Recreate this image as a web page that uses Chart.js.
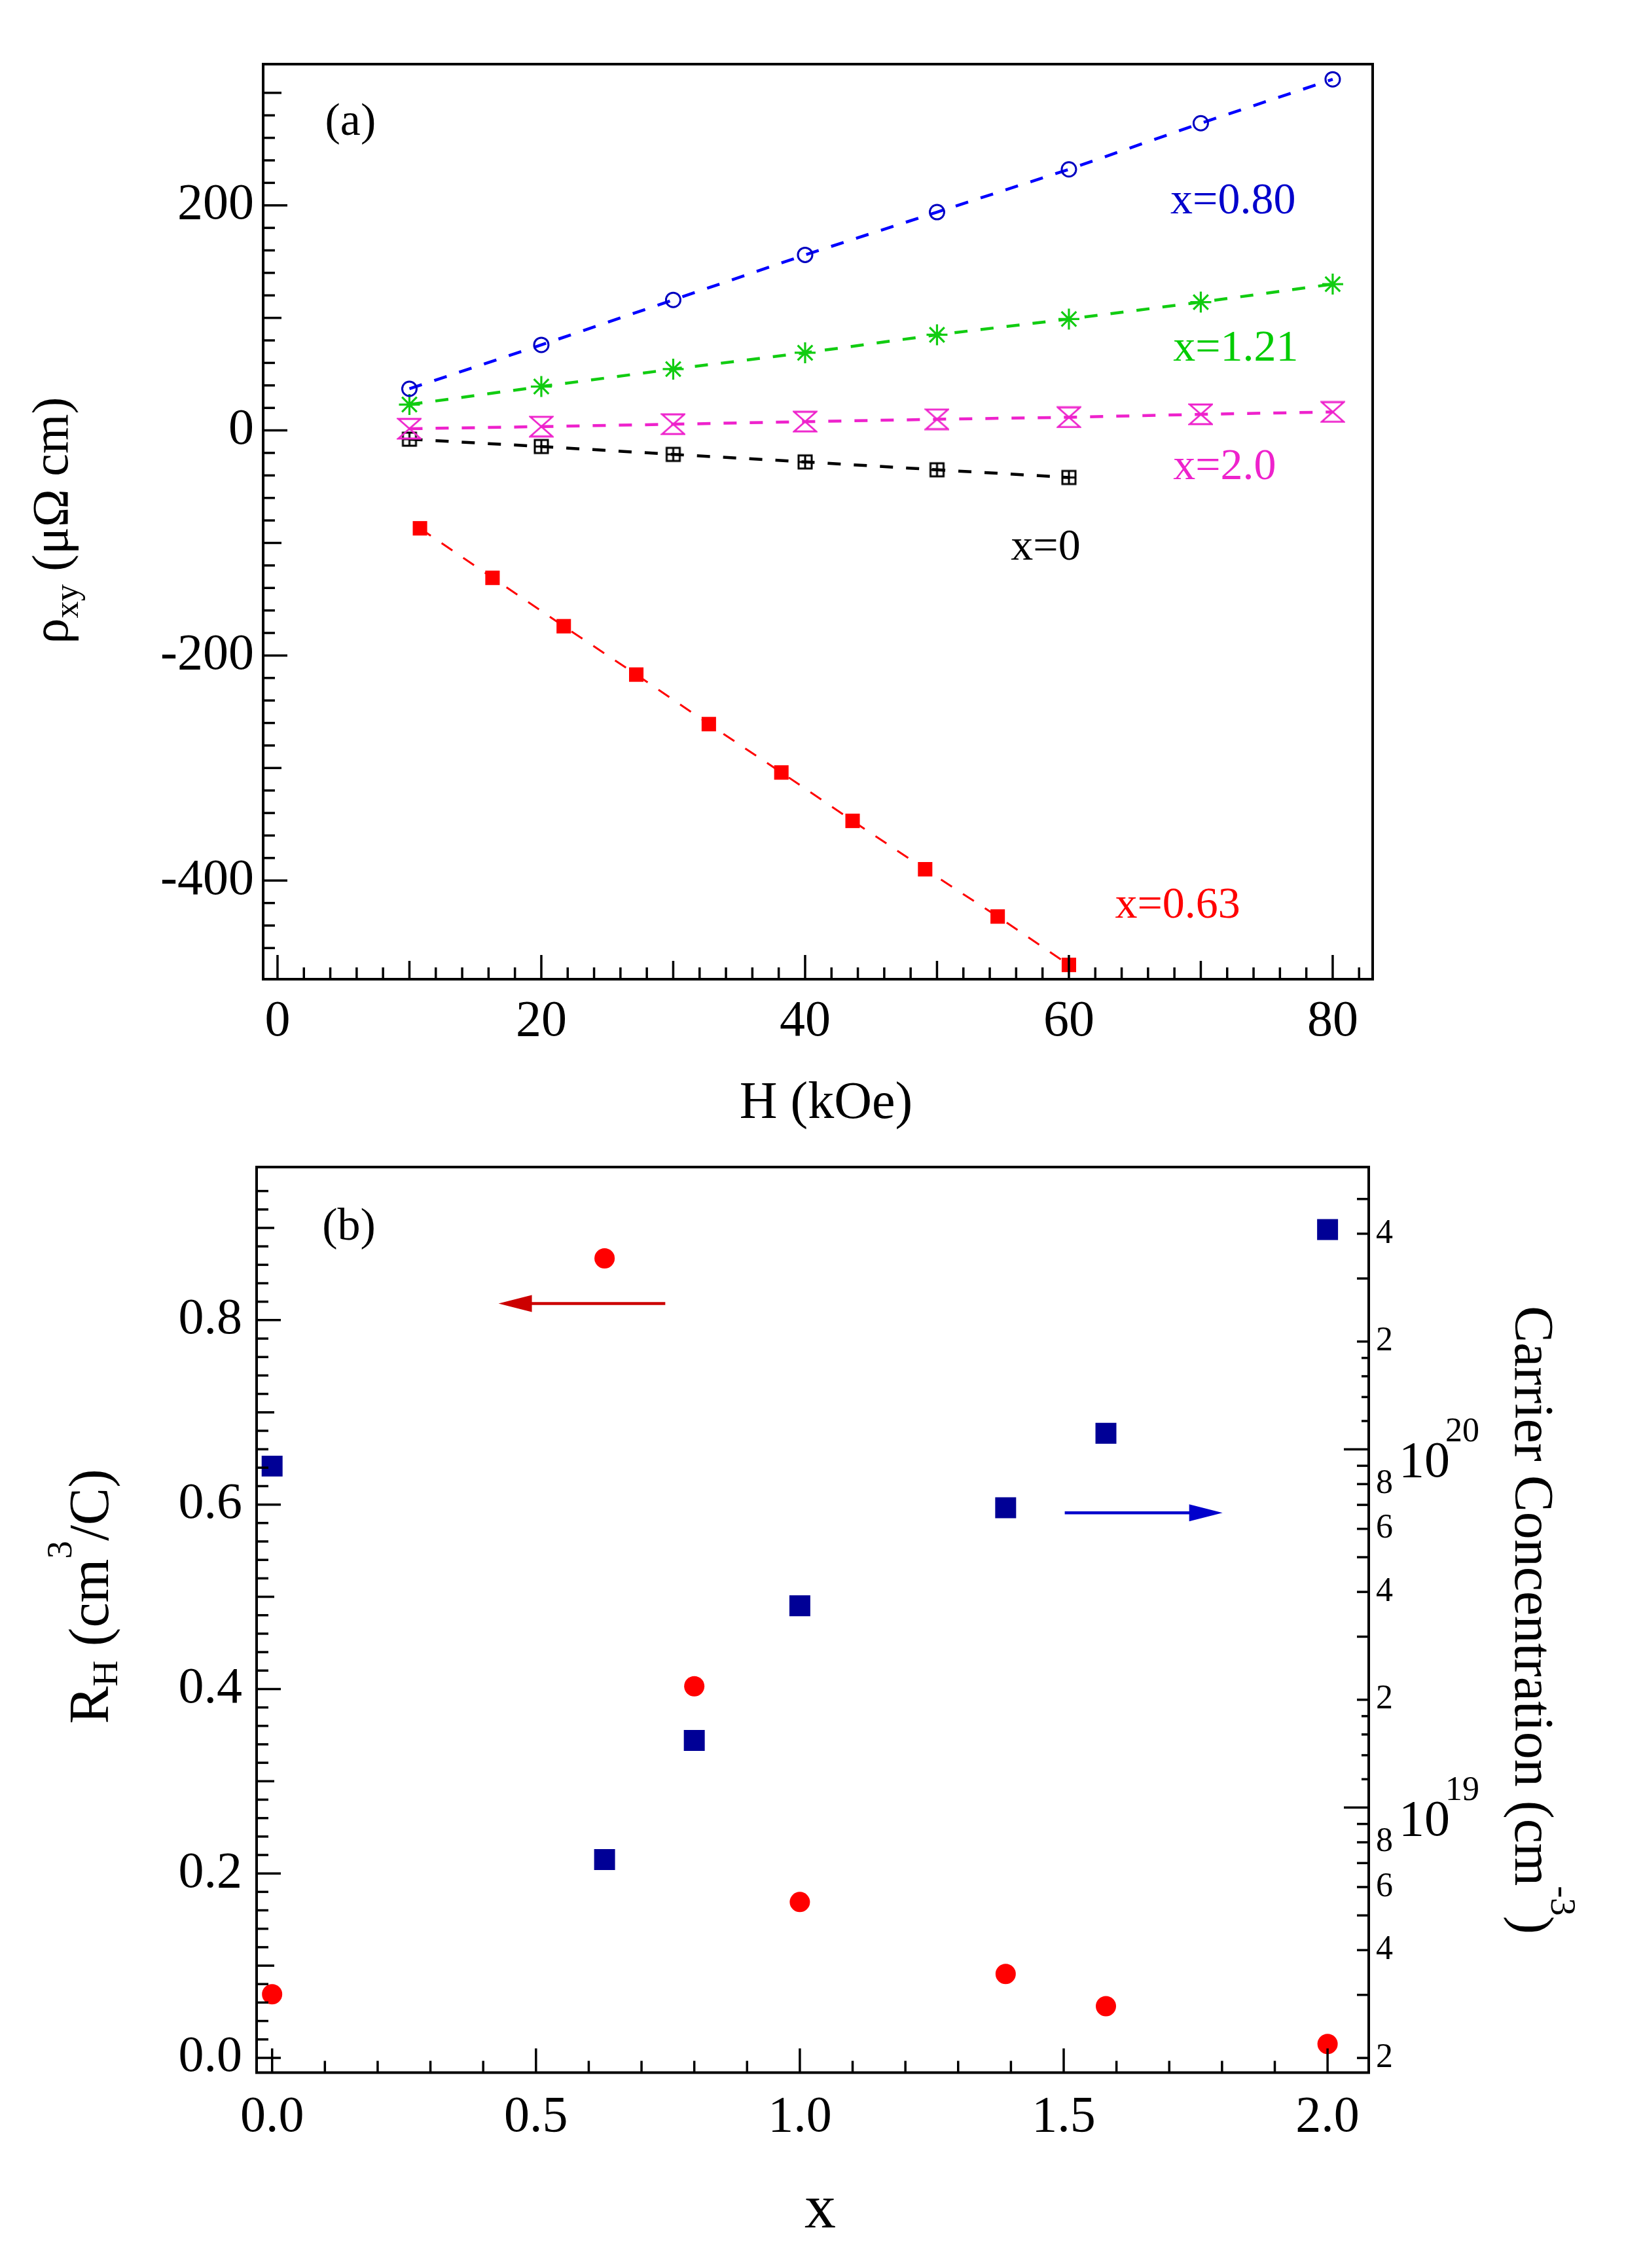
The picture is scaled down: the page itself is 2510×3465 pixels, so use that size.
<!DOCTYPE html>
<html>
<head>
<meta charset="utf-8">
<script src="https://cdn.jsdelivr.net/npm/chart.js@4.4.0/dist/chart.umd.min.js"></script>
<style>
  html, body { margin: 0; padding: 0; background: #fff; }
  body { width: 2510px; height: 3465px; position: relative; overflow: hidden; }
  canvas { position: absolute; left: 0; }
  #chartA { top: 0; }
  #chartB { top: 1660px; }
</style>
</head>
<body>
<canvas id="chartA" width="2510" height="1760"></canvas>
<canvas id="chartB" width="2510" height="1805"></canvas>
<script>
// panel (a): rho_xy vs H
const H_full = [10, 20, 30, 40, 50, 60, 70, 80];
const rho_x080 = [37, 76, 116, 156, 194, 232, 273, 312];
const rho_x121 = [23, 39, 54.5, 69, 85, 99, 114, 130];
const rho_x20 = [1.5, 3.4, 5.5, 7.8, 9.9, 11.7, 14.3, 16.4];
const H_x0 = [10, 20, 30, 40, 50, 60];
const rho_x0 = [-7.8, -14.3, -21.3, -28, -35, -41.8];
const H_x063 = [10.8, 16.3, 21.7, 27.2, 32.7, 38.2, 43.6, 49.1, 54.6, 60.0];
const rho_x063 = [-87, -131, -174, -217, -261, -304, -347, -390, -432, -475];

// panel (b): Hall coefficient and carrier concentration vs x
const xComp = [0, 0.63, 0.80, 1.0, 1.39, 1.58, 2.0];
const hallCoef = [0.069, 0.867, 0.403, 0.169, 0.091, 0.056, 0.015];
const carrierN = [8.98e19, 7.16e18, 1.54e19, 3.66e19, 6.87e19, 1.109e20, 4.11e20];

// tick labels
const hLabels = [0, 20, 40, 60, 80];
const rhoLabels = [-400, -200, 0, 200];
const xLabels = [0, 0.5, 1, 1.5, 2];
const rhLabels = [0, 0.2, 0.4, 0.6, 0.8];
const nLabelMantissas = [2, 4, 6, 8];
const nDecades = [19, 20];

const SERIF = '"Liberation Serif", "Times New Roman", serif';
const tickFont = { family: SERIF, size: 78 };

function pts(xs, ys) {
  return xs.map((x, i) => ({ x: x, y: ys[i] }));
}

function linTicks(from, to, step) {
  const out = [];
  const n = Math.round((to - from) / step);
  for (let i = 0; i <= n; i++) out.push({ value: +(from + i * step).toFixed(6) });
  return out;
}

function logTicks(lo, hi, vmin, vmax) {
  const mant = [1, 1.2, 1.4, 1.6, 1.8, 2, 3, 4, 5, 6, 7, 8, 9];
  const out = [];
  for (let d = lo; d <= hi; d++) {
    mant.forEach(m => {
      const v = m * Math.pow(10, d);
      if (v >= vmin && v <= vmax) out.push({ value: v });
    });
  }
  return out;
}

function isMult(v, s) {
  return Math.abs(v / s - Math.round(v / s)) < 1e-6;
}

function mantissa(v) {
  const e = Math.floor(Math.log10(v) + 1e-9);
  return v / Math.pow(10, e);
}

function drawRich(ctx, parts, x, y, angle, align) {
  ctx.save();
  ctx.translate(x, y);
  ctx.rotate(angle);
  ctx.textBaseline = 'alphabetic';
  ctx.textAlign = 'left';
  let total = 0;
  const widths = parts.map(p => {
    ctx.font = p.size + 'px ' + SERIF;
    const w = ctx.measureText(p.t).width;
    total += w;
    return w;
  });
  let cx = align === 'center' ? -total / 2 : 0;
  parts.forEach((p, i) => {
    ctx.font = p.size + 'px ' + SERIF;
    ctx.fillStyle = p.color || '#000';
    ctx.fillText(p.t, cx, -(p.rise || 0));
    cx += widths[i];
  });
  ctx.restore();
}

function arrow(ctx, x0, y0, x1, color) {
  const dir = Math.sign(x1 - x0);
  ctx.save();
  ctx.strokeStyle = color;
  ctx.fillStyle = color;
  ctx.lineWidth = 4.5;
  ctx.beginPath();
  ctx.moveTo(x0, y0);
  ctx.lineTo(x1 - dir * 40, y0);
  ctx.stroke();
  ctx.beginPath();
  ctx.moveTo(x1, y0);
  ctx.lineTo(x1 - dir * 51, y0 - 13);
  ctx.lineTo(x1 - dir * 51, y0 + 13);
  ctx.closePath();
  ctx.fill();
  ctx.restore();
}

// custom markers
function hourglass(color) {
  const c = document.createElement('canvas');
  c.width = 38; c.height = 34;
  const g = c.getContext('2d');
  g.strokeStyle = color;
  g.lineWidth = 2.8;
  g.beginPath();
  g.moveTo(2, 2); g.lineTo(36, 2); g.lineTo(19, 17); g.closePath();
  g.moveTo(19, 17); g.lineTo(36, 32); g.lineTo(2, 32); g.closePath();
  g.stroke();
  return c;
}

function boxPlus() {
  const c = document.createElement('canvas');
  c.width = 26; c.height = 26;
  const g = c.getContext('2d');
  g.strokeStyle = '#000';
  g.lineWidth = 3;
  g.strokeRect(3, 3, 20, 20);
  g.beginPath();
  g.moveTo(13, 3); g.lineTo(13, 23);
  g.moveTo(3, 13); g.lineTo(23, 13);
  g.stroke();
  return c;
}

// frame + inward ticks
function framePlugin(spec) {
  return {
    id: 'frameTicks',
    afterDatasetsDraw(chart) {
      const ctx = chart.ctx, a = chart.chartArea;
      ctx.save();
      ctx.strokeStyle = '#000';
      ctx.lineWidth = 3.5;
      spec.forEach(s => {
        const sc = chart.scales[s.id];
        sc.ticks.forEach(t => {
          const len = s.len(t.value);
          if (!len) return;
          const p = sc.getPixelForValue(t.value);
          ctx.beginPath();
          if (s.side === 'bottom') { ctx.moveTo(p, a.bottom); ctx.lineTo(p, a.bottom - len); }
          if (s.side === 'left') { ctx.moveTo(a.left, p); ctx.lineTo(a.left + len, p); }
          if (s.side === 'right') { ctx.moveTo(a.right, p); ctx.lineTo(a.right - len, p); }
          ctx.stroke();
        });
      });
      ctx.lineWidth = 4;
      ctx.strokeRect(a.left, a.top, a.right - a.left, a.bottom - a.top);
      ctx.restore();
    }
  };
}

// ---------- panel (a)
const notesA = [
  { t: 'x=0.80', h: 67.7, v: 193, color: '#0000cc' },
  { t: 'x=1.21', h: 67.9, v: 61.8, color: '#00cc00' },
  { t: 'x=2.0', h: 67.9, v: -43.5, color: '#ee22cc' },
  { t: 'x=0', h: 55.6, v: -115, color: '#000' },
  { t: 'x=0.63', h: 63.5, v: -433, color: '#ff0000' }
];

const textA = {
  id: 'textA',
  afterDraw(chart) {
    const ctx = chart.ctx, sx = chart.scales.x, sy = chart.scales.y;
    notesA.forEach(n => {
      drawRich(ctx, [{ t: n.t, size: 68, color: n.color }], sx.getPixelForValue(n.h), sy.getPixelForValue(n.v), 0, 'left');
    });
    drawRich(ctx, [{ t: '(a)', size: 70 }], sx.getPixelForValue(3.6), sy.getPixelForValue(262.5), 0, 'left');
    drawRich(ctx, [{ t: 'H (kOe)', size: 80 }], 1262, 1708, 0, 'center');
    drawRich(ctx, [
      { t: 'ρ', size: 78 },
      { t: 'xy', size: 52, rise: -16 },
      { t: ' (μΩ cm)', size: 78 }
    ], 103, 795, -Math.PI / 2, 'center');
  }
};

new Chart(document.getElementById('chartA'), {
  type: 'scatter',
  data: {
    datasets: [
      { data: pts(H_full, rho_x080), showLine: true, borderColor: '#0000ff', borderWidth: 4.5, borderDash: [20, 20],
        pointStyle: 'circle', pointRadius: 11, pointBorderColor: '#0000c0', pointBorderWidth: 3,
        pointBackgroundColor: 'rgba(0,0,0,0)', clip: false },
      { data: pts(H_full, rho_x121), showLine: true, borderColor: '#11cc11', borderWidth: 4.5, borderDash: [20, 20],
        pointStyle: 'star', pointRadius: 16, pointBorderColor: '#11cc11', pointBorderWidth: 3.2, clip: false },
      { data: pts(H_full, rho_x20), showLine: true, borderColor: '#ee22cc', borderWidth: 4.5, borderDash: [20, 20],
        pointStyle: hourglass('#ee22cc'), clip: false },
      { data: pts(H_x0, rho_x0), showLine: true, borderColor: '#000', borderWidth: 4.5, borderDash: [20, 20],
        pointStyle: boxPlus(), clip: false },
      { data: pts(H_x063, rho_x063), showLine: true, borderColor: '#ff0000', borderWidth: 3, borderDash: [20, 20],
        pointStyle: 'rect', pointRadius: 15.6, pointBorderWidth: 0, pointBackgroundColor: '#ff0000', clip: false }
    ]
  },
  options: {
    responsive: false,
    animation: false,
    devicePixelRatio: 1,
    layout: { padding: { top: 98, right: 413, left: 0, bottom: 0 } },
    plugins: { legend: { display: false }, tooltip: { enabled: false } },
    scales: {
      x: {
        type: 'linear', min: -1.09, max: 83.03,
        grid: { display: false, drawTicks: false, tickLength: 0 },
        border: { display: false },
        afterBuildTicks: s => { s.ticks = linTicks(0, 82, 2); },
        afterFit: s => { s.height = 264; },
        ticks: { autoSkip: false, maxRotation: 0, padding: 19, font: tickFont, color: '#000',
                 callback: v => hLabels.includes(v) ? String(v) : '' }
      },
      y: {
        type: 'linear', min: -487.7, max: 325.5,
        grid: { display: false, drawTicks: false, tickLength: 0 },
        border: { display: false },
        afterBuildTicks: s => { s.ticks = linTicks(-460, 300, 20); },
        afterFit: s => { s.width = 402; },
        ticks: { autoSkip: false, padding: 14, font: tickFont, color: '#000',
                 callback: v => rhoLabels.includes(v) ? String(v) : '' }
      }
    }
  },
  plugins: [
    framePlugin([
      { id: 'x', side: 'bottom', len: v => isMult(v, 20) ? 37 : (isMult(v, 10) ? 28 : 18) },
      { id: 'y', side: 'left', len: v => isMult(v, 200) ? 37 : (isMult(v, 100) ? 28 : 18) }
    ]),
    textA
  ]
});

// ---------- panel (b)
const N_MIN = 1.82e18, N_MAX = 6.14e20;

const textB = {
  id: 'textB',
  afterDraw(chart) {
    const ctx = chart.ctx, sx = chart.scales.x, sy = chart.scales.y, sn = chart.scales.y2;
    const a = chart.chartArea;
    drawRich(ctx, [{ t: '(b)', size: 70 }], sx.getPixelForValue(0.095), sy.getPixelForValue(0.887), 0, 'left');
    arrow(ctx, sx.getPixelForValue(0.745), sy.getPixelForValue(0.818), sx.getPixelForValue(0.429), '#cc0000');
    arrow(ctx, sx.getPixelForValue(1.502), sy.getPixelForValue(0.591), sx.getPixelForValue(1.801), '#0000cc');
    nDecades.forEach(d => {
      const p = sn.getPixelForValue(Math.pow(10, d));
      drawRich(ctx, [{ t: '10', size: 78 }], a.right + 46, p + 42, 0, 'left');
      drawRich(ctx, [{ t: String(d), size: 52 }], a.right + 117, p - 12, 0, 'left');
    });
    drawRich(ctx, [{ t: 'x', size: 96 }], 1253, 1743, 0, 'center');
    drawRich(ctx, [
      { t: 'R', size: 86 },
      { t: 'H', size: 55, rise: -14 },
      { t: ' (cm', size: 86 },
      { t: '3', size: 55, rise: 56 },
      { t: '/C)', size: 86 }
    ], 165, 779, -Math.PI / 2, 'center');
    drawRich(ctx, [
      { t: 'Carrier Concentration (cm', size: 84 },
      { t: '-3', size: 55, rise: 55 },
      { t: ')', size: 84 }
    ], 2315, 815, Math.PI / 2, 'center');
  }
};

new Chart(document.getElementById('chartB'), {
  type: 'scatter',
  data: {
    datasets: [
      { data: pts(xComp, hallCoef), yAxisID: 'y', pointStyle: 'circle', pointRadius: 15.5,
        pointBorderWidth: 0, pointBackgroundColor: '#ff0000', clip: false },
      { data: pts(xComp, carrierN), yAxisID: 'y2', pointStyle: 'rect', pointRadius: 22.6,
        pointBorderWidth: 0, pointBackgroundColor: '#000096', clip: false }
    ]
  },
  options: {
    responsive: false,
    animation: false,
    devicePixelRatio: 1,
    layout: { padding: { top: 123, right: 0, left: 0, bottom: 0 } },
    plugins: { legend: { display: false }, tooltip: { enabled: false } },
    scales: {
      x: {
        type: 'linear', min: -0.0294, max: 2.078,
        grid: { display: false, drawTicks: false, tickLength: 0 },
        border: { display: false },
        afterBuildTicks: s => { s.ticks = linTicks(0, 2, 0.1); },
        afterFit: s => { s.height = 298.5; },
        ticks: { autoSkip: false, maxRotation: 0, padding: 22, font: tickFont, color: '#000',
                 callback: v => xLabels.includes(v) ? v.toFixed(1) : '' }
      },
      y: {
        type: 'linear', position: 'left', min: -0.016, max: 0.966,
        grid: { display: false, drawTicks: false, tickLength: 0 },
        border: { display: false },
        afterBuildTicks: s => { s.ticks = linTicks(0, 0.94, 0.02); },
        afterFit: s => { s.width = 392; },
        ticks: { autoSkip: false, padding: 22, font: tickFont, color: '#000',
                 callback: v => rhLabels.includes(v) ? v.toFixed(1) : '' }
      },
      y2: {
        type: 'logarithmic', position: 'right', min: N_MIN, max: N_MAX,
        grid: { display: false, drawTicks: false, tickLength: 0 },
        border: { display: false },
        afterBuildTicks: s => { s.ticks = logTicks(18, 20, N_MIN, 5.01e20); },
        afterFit: s => { s.width = 419; },
        ticks: { autoSkip: false, padding: 11, font: { family: SERIF, size: 52 }, color: '#000',
                 callback: v => {
                   const m = mantissa(v);
                   const r = Math.round(m);
                   return (Math.abs(m - r) < 1e-6 && nLabelMantissas.includes(r)) ? String(r) : '';
                 } }
      }
    }
  },
  plugins: [
    framePlugin([
      { id: 'x', side: 'bottom', len: v => isMult(v, 0.5) ? 37 : 18 },
      { id: 'y', side: 'left', len: v => isMult(v, 0.2) ? 37 : (isMult(v, 0.1) ? 27 : 18) },
      { id: 'y2', side: 'right', len: v => {
          const m = mantissa(v);
          if (Math.abs(m - 1) < 1e-6) return 38;
          return Math.abs(m - Math.round(m)) < 1e-6 ? 18 : 11;
        } }
    ]),
    textB
  ]
});
</script>
</body>
</html>
